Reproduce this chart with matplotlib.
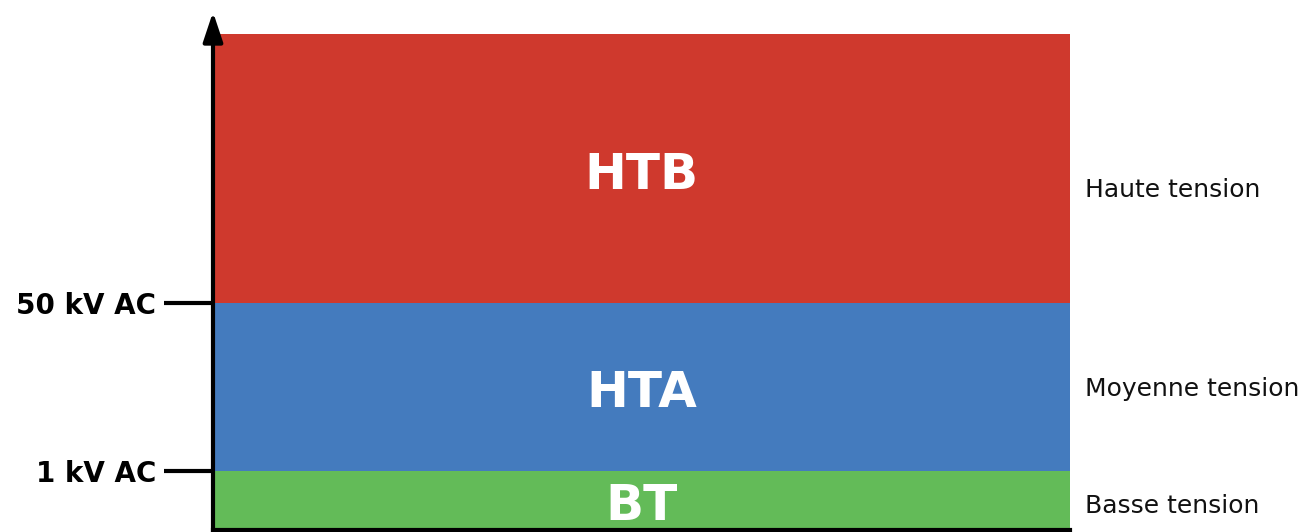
import matplotlib.pyplot as plt

# niveaux de tension (unités arbitraires de l'échelle verticale)
band_names = ["BT", "HTA", "HTB"]
band_desc = ["Basse tension", "Moyenne tension", "Haute tension"]
band_edges = [0, 1, 3.85, 8.4]
band_colors = ["#63bb58", "#447bbe", "#cf392d"]
tick_labels = ["1 kV AC", "50 kV AC"]

fig = plt.figure(figsize=(13.11, 5.32), dpi=100)
ax = fig.add_axes([213 / 1311, 2 / 532, (1070 - 213) / 1311, 518 / 532])

for i, name in enumerate(band_names):
    lo, hi = band_edges[i], band_edges[i + 1]
    ax.bar(0.5, hi - lo, bottom=lo, width=1.0, color=band_colors[i], linewidth=0)
    ax.text(0.5, (lo + hi) / 2 - 0.1, name, ha="center", va="center",
            color="white", fontsize=36, fontweight="bold")

# descriptions à droite (léger décalage vertical comme sur l'original)
desc_shift = [-0.1, -0.03, -0.37]
for i, desc in enumerate(band_desc):
    yc = (band_edges[i] + band_edges[i + 1]) / 2 + desc_shift[i]
    ax.text(1.0175, yc, desc, transform=ax.get_yaxis_transform(),
            ha="left", va="center", fontsize=18, color="#111111")

ax.set_xlim(0, 1)
ax.set_ylim(0, 8.78)
ax.set_xticks([])
ax.set_yticks(band_edges[1:3])
ax.set_yticklabels(tick_labels, fontsize=20, fontweight="bold")
ax.tick_params(axis="y", length=35, width=3, pad=6, color="black")

for s in ["top", "right"]:
    ax.spines[s].set_visible(False)
ax.spines["left"].set_linewidth(3)
ax.spines["bottom"].set_linewidth(3)
ax.spines["left"].set_bounds(0, 8.5)

# flèche en haut de l'axe vertical
ax.annotate("", xy=(0, 8.78), xytext=(0, 8.3),
            xycoords=("axes fraction", "data"),
            arrowprops=dict(arrowstyle="-|>,head_length=1.2,head_width=0.4",
                            color="black", lw=3, mutation_scale=15,
                            shrinkA=0, shrinkB=0),
            annotation_clip=False)

fig.savefig("out.png", dpi=100)
